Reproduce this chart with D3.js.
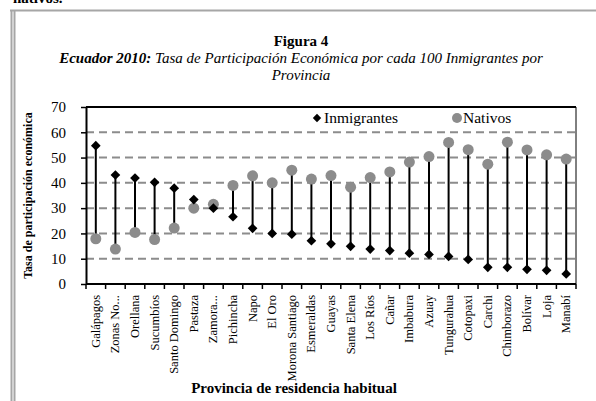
<!DOCTYPE html>
<html>
<head>
<meta charset="utf-8">
<script src="https://cdn.jsdelivr.net/npm/d3@7"></script>
<style>
  html, body { margin: 0; padding: 0; background: #fff; }
  svg { display: block; }
  svg text { font-family: "Liberation Serif", "Times New Roman", serif !important; }
</style>
</head>
<body>
<div id="chart"></div>
<script>
// provinces, ordered as in the figure
const provincias = ["Galápagos", "Zonas No...", "Orellana", "Sucumbíos", "Santo Domingo", "Pastaza",
  "Zamora...", "Pichincha", "Napo", "El Oro", "Morona Santiago", "Esmeraldas", "Guayas",
  "Santa Elena", "Los Ríos", "Cañar", "Imbabura", "Azuay", "Tungurahua", "Cotopaxi", "Carchi",
  "Chimborazo", "Bolívar", "Loja", "Manabí"];

const inmigrantes = [54.7, 43.1, 41.9, 40.2, 37.9, 33.4, 30.0, 26.6, 22.0, 20.0, 19.7, 17.1, 15.9,
  14.9, 13.8, 13.2, 12.2, 11.7, 10.9, 9.7, 6.6, 6.6, 5.8, 5.4, 4.0];

const nativos = [17.9, 13.8, 20.4, 17.6, 22.1, 30.0, 31.5, 39.0, 42.8, 40.0, 45.0, 41.5, 42.9,
  38.3, 42.1, 44.3, 48.2, 50.4, 56.0, 53.1, 47.4, 56.1, 53.0, 51.1, 49.4];

const yTicks = [0, 10, 20, 30, 40, 50, 60, 70];

const W = 596, H = 401;
const FONT = "Liberation Serif, Times New Roman, serif";
const margin = {top: 107, right: 20, bottom: 117, left: 86};
const width = 576 - margin.left, height = 284 - margin.top;

const svg = d3.select("#chart").append("svg")
  .attr("width", W).attr("height", H)
  .attr("font-family", FONT);

// frame around the figure (gray double border)
svg.append("line").attr("x1", 10).attr("x2", W).attr("y1", 10.5).attr("y2", 10.5)
  .attr("stroke", "#a6a6a6").attr("stroke-width", 2);
svg.append("line").attr("x1", 11.5).attr("x2", 11.5).attr("y1", 10).attr("y2", H)
  .attr("stroke", "#a6a6a6").attr("stroke-width", 2);
svg.append("line").attr("x1", 14.5).attr("x2", 14.5).attr("y1", 10).attr("y2", H)
  .attr("stroke", "#a6a6a6").attr("stroke-width", 2);

// leftover of the paragraph above the figure (cut at the top edge, as in the source)
svg.append("text").attr("x", 13).attr("y", 3)
  .attr("font-size", 15).attr("font-weight", "bold").text("nativos.");

// titles
svg.append("text").attr("x", 301).attr("y", 46).attr("text-anchor", "middle")
  .attr("font-size", 15).attr("font-weight", "bold").text("Figura 4");
const sub = svg.append("text").attr("x", 301).attr("y", 63).attr("text-anchor", "middle")
  .attr("font-size", 15).attr("font-style", "italic");
sub.append("tspan").attr("font-weight", "bold").text("Ecuador 2010:");
sub.append("tspan").text(" Tasa de Participación Económica por cada 100 Inmigrantes por");
svg.append("text").attr("x", 301).attr("y", 80).attr("text-anchor", "middle")
  .attr("font-size", 15).attr("font-style", "italic").text("Provincia");

const g = svg.append("g").attr("transform", `translate(${margin.left},${margin.top})`);

const x = d3.scaleBand().domain(provincias).range([0, width]);
const y = d3.scaleLinear().domain([0, 70]).range([height, 0]);

// dashed gridlines
g.append("g").selectAll("line")
  .data(yTicks.filter(d => d > 0 && d < 70))
  .join("line")
  .attr("x1", 0).attr("x2", width)
  .attr("y1", d => y(d)).attr("y2", d => y(d))
  .attr("stroke", "#8c8c8c").attr("stroke-width", 2)
  .attr("stroke-dasharray", "8,5");

// plot border (top and right)
g.append("line").attr("x1", 0).attr("x2", width).attr("y1", 0).attr("y2", 0)
  .attr("stroke", "#000").attr("stroke-width", 2);
g.append("line").attr("x1", width).attr("x2", width).attr("y1", 0).attr("y2", height)
  .attr("stroke", "#000").attr("stroke-width", 1);

// y axis
const yAxis = g.append("g")
  .call(d3.axisLeft(y).tickValues(yTicks).tickSize(5).tickSizeOuter(0))
  .attr("font-family", FONT);
yAxis.select(".domain").attr("stroke-width", 2);
yAxis.selectAll(".tick line").attr("stroke-width", 1.5);
yAxis.selectAll("text").attr("font-size", 15).attr("x", -20).attr("fill", "#000");

// x axis: ticks at the category boundaries
const xb = g.append("g").attr("transform", `translate(0,${height})`);
xb.append("line").attr("x1", 0).attr("x2", width).attr("stroke", "#000").attr("stroke-width", 2);
xb.selectAll("line.tk")
  .data(provincias.concat(["end"]))
  .join("line").attr("class", "tk")
  .attr("x1", (d, i) => i * x.step()).attr("x2", (d, i) => i * x.step())
  .attr("y1", 0).attr("y2", 5)
  .attr("stroke", "#000").attr("stroke-width", 1.5);
xb.selectAll("text")
  .data(provincias)
  .join("text")
  .attr("transform", d => `translate(${x(d) + x.bandwidth() / 2 + 4},11) rotate(-90)`)
  .attr("text-anchor", "end")
  .attr("font-size", 12.5)
  .text(d => d);

// dumbbell lines
g.append("g").selectAll("line")
  .data(provincias)
  .join("line")
  .attr("x1", d => x(d) + x.bandwidth() / 2).attr("x2", d => x(d) + x.bandwidth() / 2)
  .attr("y1", (d, i) => y(inmigrantes[i])).attr("y2", (d, i) => y(nativos[i]))
  .attr("stroke", "#000").attr("stroke-width", 2);

const diamond = d3.symbol().type(d3.symbolDiamond2).size(60);

// nativos (gray circles)
g.append("g").selectAll("circle")
  .data(provincias)
  .join("circle")
  .attr("cx", d => x(d) + x.bandwidth() / 2)
  .attr("cy", (d, i) => y(nativos[i]))
  .attr("r", 5.5)
  .attr("fill", "#8c8c8c");

// inmigrantes (black diamonds)
g.append("g").selectAll("path")
  .data(provincias)
  .join("path")
  .attr("transform", (d, i) => `translate(${x(d) + x.bandwidth() / 2},${y(inmigrantes[i])})`)
  .attr("d", diamond)
  .attr("fill", "#000");

// legend
const leg = g.append("g");
leg.append("path").attr("transform", `translate(${317 - margin.left},${118 - margin.top})`)
  .attr("d", d3.symbol().type(d3.symbolDiamond2).size(45)).attr("fill", "#000");
leg.append("text").attr("x", 324 - margin.left).attr("y", 123 - margin.top)
  .attr("font-size", 15.5).text("Inmigrantes");
leg.append("circle").attr("cx", 457 - margin.left).attr("cy", 118 - margin.top)
  .attr("r", 5).attr("fill", "#8c8c8c");
leg.append("text").attr("x", 463 - margin.left).attr("y", 123 - margin.top)
  .attr("font-size", 15.5).text("Nativos");

// axis titles
svg.append("text")
  .attr("transform", `translate(32,${(107 + 284) / 2}) rotate(-90)`)
  .attr("text-anchor", "middle").attr("font-size", 12).attr("font-weight", "bold")
  .text("Tasa de participación económica");
svg.append("text").attr("x", 294).attr("y", 393).attr("text-anchor", "middle")
  .attr("font-size", 15).attr("font-weight", "bold")
  .text("Provincia de residencia habitual");
</script>
</body>
</html>
